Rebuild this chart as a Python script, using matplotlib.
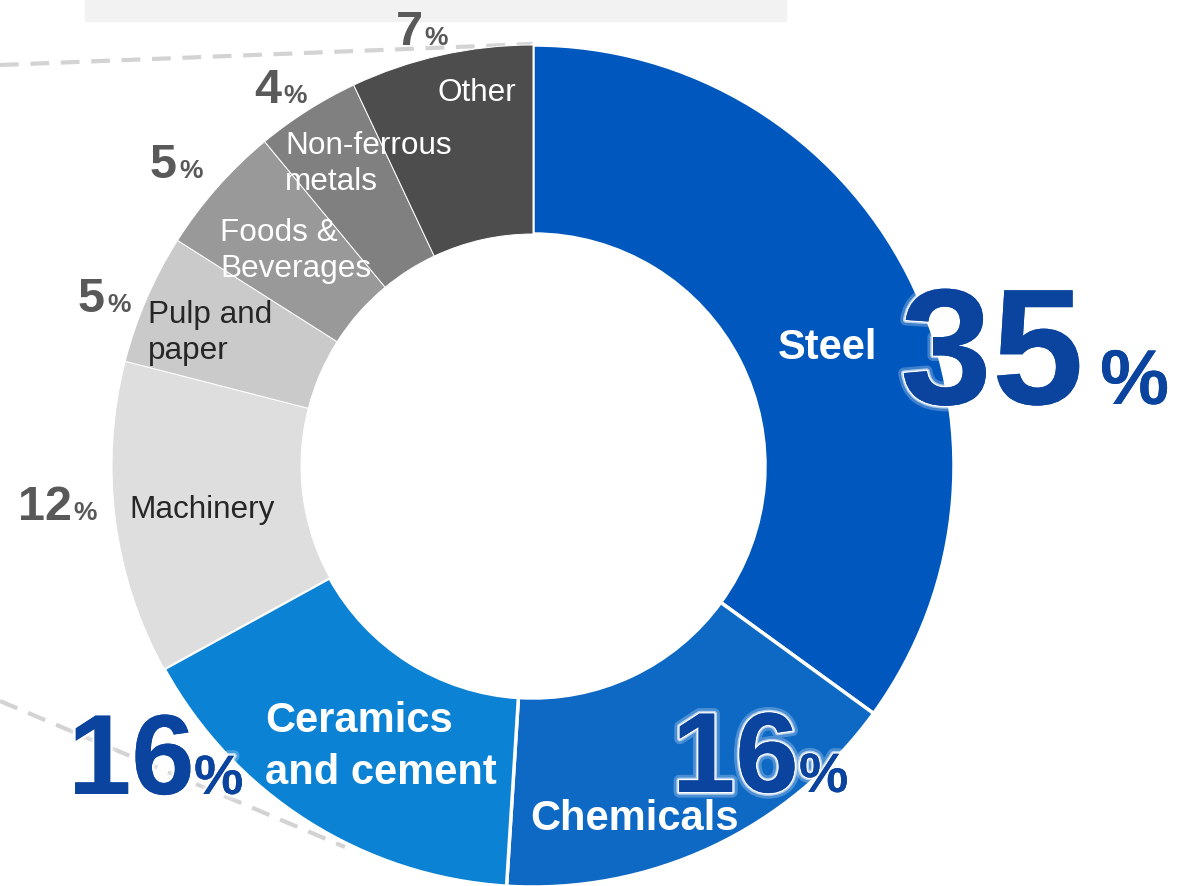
import matplotlib.pyplot as plt
import matplotlib.patheffects as pe
from matplotlib.patches import Rectangle

plt.rcParams['font.family'] = ['Liberation Sans', 'DejaVu Sans']

# energy use by industry, share in %
sectors = ['Steel', 'Chemicals', 'Ceramics\nand cement', 'Machinery',
           'Pulp and\npaper', 'Foods &\nBeverages', 'Non-ferrous\nmetals', 'Other']
shares = [35, 16, 16, 12, 5, 5, 4, 7]
colors = ['#0057BD', '#0E69C5', '#0B82D3', '#DEDEDE',
          '#CACACA', '#999999', '#808080', '#4D4D4D']

W, H = 1191, 887
fig = plt.figure(figsize=(W / 100, H / 100), dpi=100)
ax = fig.add_axes([0, 0, 1, 1])

# light band at the top and dashed connector lines (drawn under the ring)
ax.add_patch(Rectangle((85, 0), 701, 22, color='#F2F2F2', zorder=0))
ax.plot([0, 533], [66, 45], color='#D3D3D3', lw=3, ls=(0, (4.5, 2.8)), zorder=0)
ax.plot([0, 345], [702, 848], color='#D3D3D3', lw=3, ls=(0, (4.5, 2.8)), zorder=0)

# y axis runs downward, so counterclock=True draws clockwise on screen
wedges, _ = ax.pie(shares, colors=colors, startangle=-90, counterclock=True,
                   center=(533, 467), radius=421,
                   wedgeprops=dict(width=189, edgecolor='white'))
for w, c in zip(wedges, colors):
    w.set_zorder(2)
    w.set_linewidth(2.5 if c.startswith('#0') else 0.7)

ax.set_xlim(0, W)
ax.set_ylim(H, 0)
ax.set_aspect('equal')
ax.axis('off')

# sector names: (left x, centre y, colour, bold)
name_pos = [(778, 348, 'white', True), (530, 819, 'white', True),
            (265, 747, 'white', True), (129, 510, '#262626', False),
            (148, 333, '#262626', False), (220, 251, 'white', False),
            (285, 164, 'white', False), (437, 93, 'white', False)]
for name, (x, y, col, bold) in zip(sectors, name_pos):
    ax.text(x, y, name, ha='left', va='center', color=col,
            fontsize=30 if bold else 22.7, fontweight='bold' if bold else 'normal',
            linespacing=1.38 if bold else 1.28, zorder=5)

# share labels: (number x, baseline y, % x, number size, % size, big)
glow = [pe.withStroke(linewidth=8, foreground=(1, 1, 1, 0.25)),
        pe.withStroke(linewidth=4, foreground=(1, 1, 1, 0.6)),
        pe.withStroke(linewidth=2, foreground='white'), pe.Normal()]
pct_pos = [(900, 405, 1100, 119, 56, True), (672, 793, 799, 82, 40, True),
           (68, 795, 194, 82, 40, True), (18, 520, 73, 35, 19, False),
           (78, 312, 107, 35, 19, False), (150, 178, 179, 35, 19, False),
           (254, 103, 283, 35, 19, False), (396, 45, 424, 35, 19, False)]
for v, (x, y, px, s1, s2, big) in zip(shares, pct_pos):
    col = '#0A449E' if big else '#595959'
    eff = glow if big else None
    ax.text(x, y, str(v), ha='left', va='baseline', color=col, fontsize=s1,
            fontweight='bold', path_effects=eff, zorder=6)
    ax.text(px, y, '%', ha='left', va='baseline', color=col, fontsize=s2,
            fontweight='bold', path_effects=eff, zorder=6)

fig.savefig('out.png', dpi=100)
